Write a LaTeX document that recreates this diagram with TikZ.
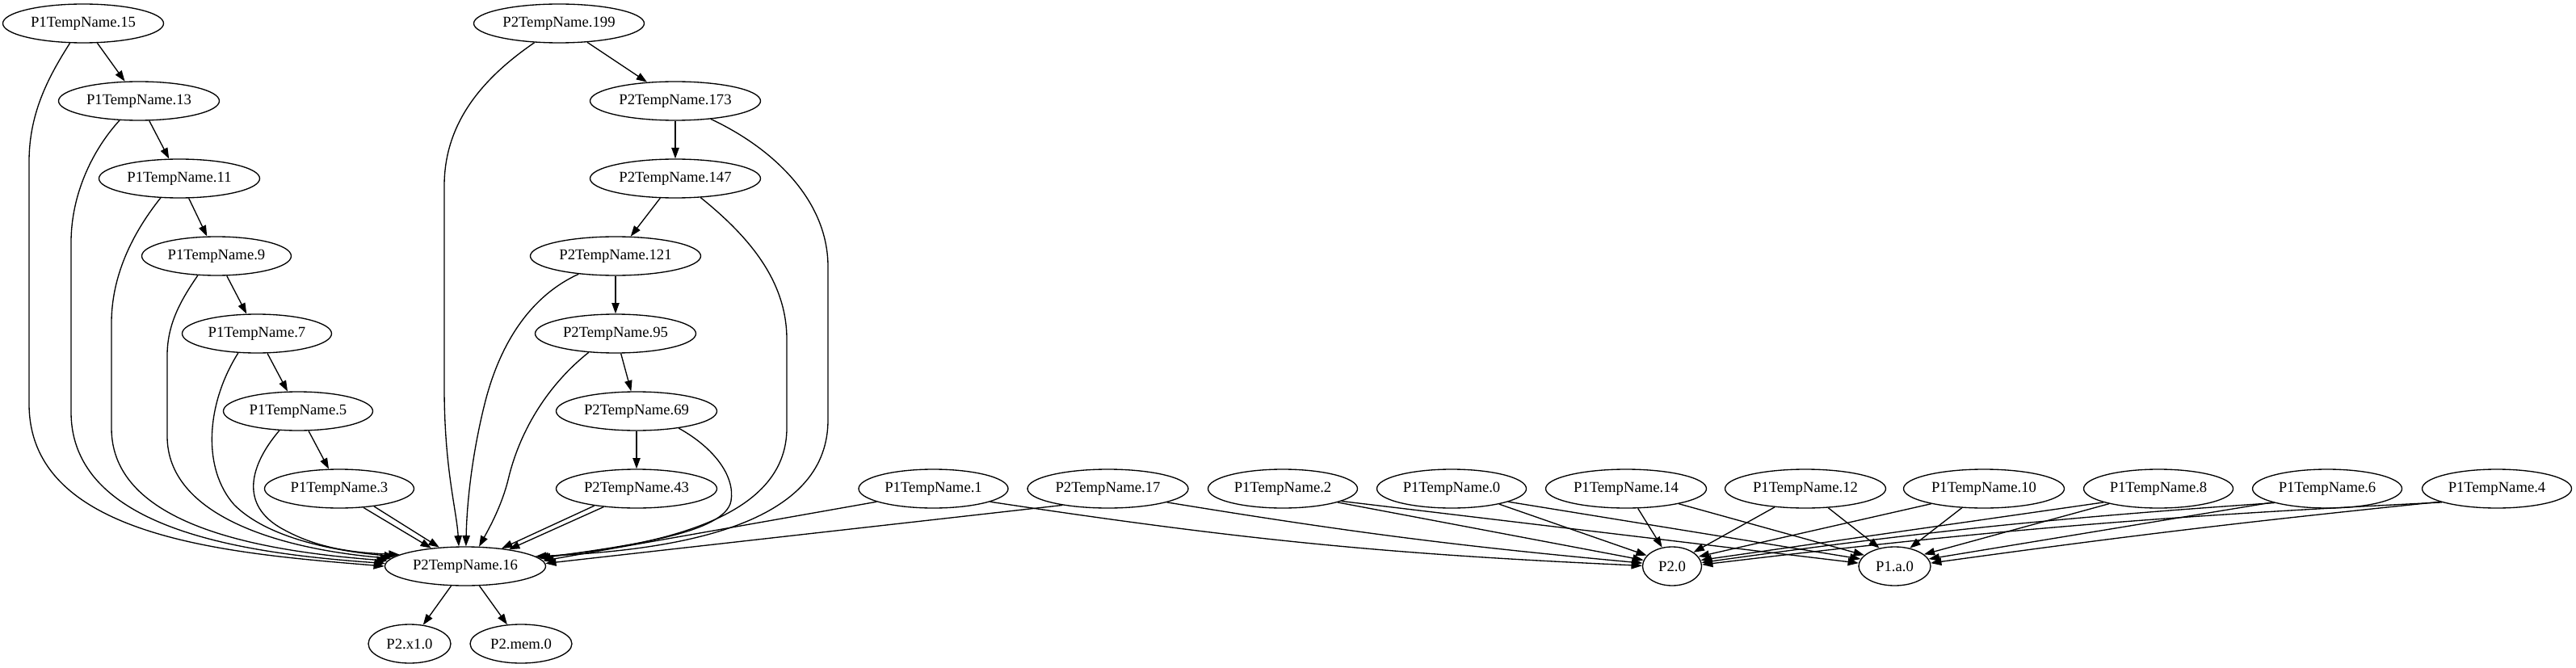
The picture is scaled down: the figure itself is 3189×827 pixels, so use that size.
\documentclass[tikz,border=0pt]{standalone}
\usepackage{fontspec}
\setmainfont{Liberation Serif}
\usetikzlibrary{shapes.geometric,arrows.meta}
\tikzset{
 gv/.style={ellipse, draw, line width=1pt, inner sep=0pt, minimum height=36pt, font=\fontsize{14}{16.8}\selectfont},
 wa/.style={gv, minimum width=138.75pt},
 wb/.style={gv, minimum width=149.25pt},
 wc/.style={gv, minimum width=158.25pt},
 edge/.style={line width=1pt, -{Triangle[length=10pt,width=7pt]}},
}
\begin{document}
\begin{tikzpicture}[x=0.75pt,y=-0.75pt]
\path[fill=white] (0,0) rectangle (3189,827);
% nodes
\node[wb] (p15) at (103,29) {P1TempName.15};
\node[wb] (p13) at (172,125) {P1TempName.13};
\node[wb] (p11) at (222,221) {P1TempName.11};
\node[wa] (p9) at (268,317) {P1TempName.9};
\node[wa] (p7) at (318,413) {P1TempName.7};
\node[wa] (p5) at (369,509) {P1TempName.5};
\node[wa] (p3) at (420,605) {P1TempName.3};
\node[wc] (q199) at (692,29) {P2TempName.199};
\node[wc] (q173) at (836,125) {P2TempName.173};
\node[wc] (q147) at (836,221) {P2TempName.147};
\node[wc] (q121) at (762,317) {P2TempName.121};
\node[wb] (q95) at (762,413) {P2TempName.95};
\node[wb] (q69) at (788,509) {P2TempName.69};
\node[wb] (q43) at (788,605) {P2TempName.43};
\node[wa] (p1) at (1155.5,605) {P1TempName.1};
\node[wb] (q17) at (1371.5,605) {P2TempName.17};
\node[wa] (p2) at (1588,605) {P1TempName.2};
\node[wa] (p0) at (1797,605) {P1TempName.0};
\node[wb] (p14) at (2013,605) {P1TempName.14};
\node[wb] (p12) at (2235,605) {P1TempName.12};
\node[wb] (p10) at (2456,605) {P1TempName.10};
\node[wa] (p8) at (2672,605) {P1TempName.8};
\node[wa] (p6) at (2881,605) {P1TempName.6};
\node[wa] (p4) at (3091,605) {P1TempName.4};
\node[wb] (q16) at (576,701) {P2TempName.16};
\node[gv, minimum width=54.75pt] (r20) at (2070,701) {P2.0};
\node[gv, minimum width=66.75pt] (r1a0) at (2345.5,701) {P1.a.0};
\node[gv, minimum width=76.5pt] (x10) at (507,797) {P2.x1.0};
\node[gv, minimum width=94.5pt] (mem0) at (645,797) {P2.mem.0};
% chains
\draw[edge] (p15) -- (p13);
\draw[edge] (p13) -- (p11);
\draw[edge] (p11) -- (p9);
\draw[edge] (p9) -- (p7);
\draw[edge] (p7) -- (p5);
\draw[edge] (p5) -- (p3);
\draw[edge] (q199) -- (q173);
\draw[edge] (q173) -- (q147);
\draw[edge] (q147) -- (q121);
\draw[edge] (q121) -- (q95);
\draw[edge] (q95) -- (q69);
\draw[edge] (q69) -- (q43);
\draw[edge] (q16) -- (x10);
\draw[edge] (q16) -- (mem0);
% left curves into P2TempName.16
\draw[edge] (p15.236) .. controls (60,95) and (36,140) .. (36,200) -- (36,500) .. controls (36,665) and (280,685) .. (q16.180);
\draw[edge] (p13.225) .. controls (115,185) and (88,240) .. (88,300) -- (88,510) .. controls (88,655) and (300,685) .. (q16.178);
\draw[edge] (p11.226) .. controls (175,275) and (138,330) .. (138,400) -- (138,530) .. controls (138,650) and (320,682) .. (q16.176);
\draw[edge] (p9.226) .. controls (225,370) and (207,400) .. (207,440) -- (207,540) .. controls (207,640) and (350,680) .. (q16.174);
\draw[edge] (p7.226) .. controls (255,500) and (250,580) .. (290,625) .. controls (330,665) and (410,682) .. (q16.172);
\draw[edge] (p5.226) .. controls (310,575) and (295,625) .. (350,655) .. controls (390,677) and (430,684) .. (q16.170);
\draw[edge] (p3.-38) -- (q16.152);
\draw[edge] (p3.-27) -- (q16.144);
% right curves into P2TempName.16
\draw[edge] (q199.218) .. controls (600,95) and (550,150) .. (550,230) -- (550,480) .. controls (550,580) and (565,630) .. (q16.108);
\draw[edge] (q121.206) .. controls (660,365) and (620,420) .. (600,500) .. controls (585,560) and (578,620) .. (q16.88);
\draw[edge] (q95.215) .. controls (680,475) and (645,530) .. (630,590) .. controls (622,625) and (605,655) .. (q16.55);
\draw[edge] (q43.202) -- (q16.26);
\draw[edge] (q43.209) -- (q16.21);
\draw[edge] (q173.-27) .. controls (960,185) and (1025,250) .. (1025,330) -- (1025,520) .. controls (1025,640) and (870,680) .. (q16.8);
\draw[edge] (q147.-37) .. controls (930,295) and (974,350) .. (974,420) -- (974,530) .. controls (974,630) and (850,672) .. (q16.7);
\draw[edge] (q69.-22) .. controls (885,555) and (910,590) .. (905,620) .. controls (898,660) and (780,675) .. (q16.6);
\draw[edge] (p1.193) -- (q16.4);
\draw[edge] (q17.200) -- (q16.2);
% edges to P2.0 and P1.a.0
\draw[edge] (p1.-13) to[bend right=3] (r20.179);
\draw[edge] (q17.-13) to[bend right=2] (r20.174);
\draw[edge] (p2.-14) -- (r20.168);
\draw[edge] (p2.-12) -- (r1a0.175);
\draw[edge] (p0.-18) -- (r20.157);
\draw[edge] (p0.-13.5) -- (r1a0.168);
\draw[edge] (p14.-59) -- (r20.118);
\draw[edge] (p14.-16) -- (r1a0.160);
\draw[edge] (p12.211) -- (r20.33);
\draw[edge] (p12.-40) -- (r1a0.130);
\draw[edge] (p10.196) -- (r20.20);
\draw[edge] (p10.221) -- (r1a0.50);
\draw[edge] (p8.194) -- (r20.12);
\draw[edge] (p8.197) -- (r1a0.22);
\draw[edge] (p6.195) to[bend right=2] (r20.7);
\draw[edge] (p6.194) -- (r1a0.12);
\draw[edge] (p4.194) to[bend right=2] (r20.3);
\draw[edge] (p4.193) to[bend right=1] (r1a0.5);
\end{tikzpicture}
\end{document}
